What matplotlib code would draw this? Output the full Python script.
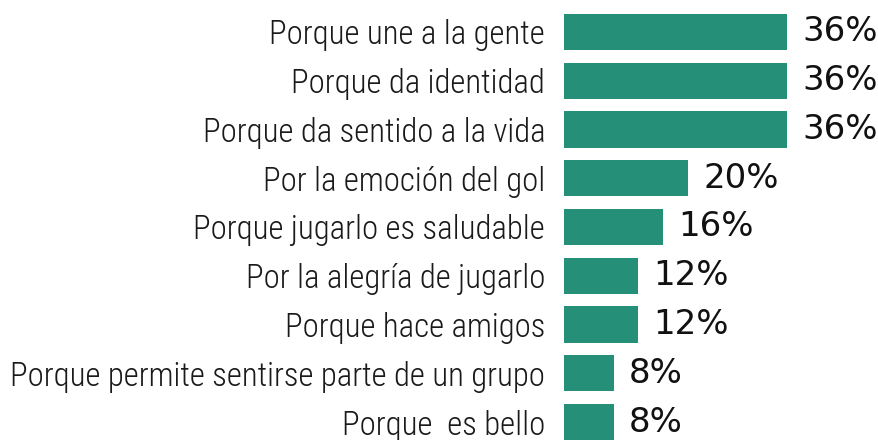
import matplotlib; matplotlib.use('Agg')
import matplotlib.pyplot as plt

reasons = ['Porque une a la gente', 'Porque da identidad', 'Porque da sentido a la vida',
           'Por la emoción del gol', 'Porque jugarlo es saludable', 'Por la alegría de jugarlo',
           'Porque hace amigos', 'Porque permite sentirse parte de un grupo', 'Porque  es bello']
pct = [36, 36, 36, 20, 16, 12, 12, 8, 8]

TEAL = '#258F78'
LABEL_FONT = ['Roboto Condensed', 'Fira Sans Condensed', 'DejaVu Sans']

fig = plt.figure(figsize=(8.79, 4.40), dpi=100)
ax = fig.add_axes([564/879, -6.4/440, 315/879, 438.8/440])
y = range(len(reasons))
ax.barh(y, pct, height=0.74, color=TEAL)
ax.set_xlim(0, 50.9)
ax.set_ylim(len(reasons) - 0.5, -0.5)
ax.set_yticks(list(y))
ax.set_yticklabels(reasons, family=LABEL_FONT, weight=300, fontsize=23.6, color='#1a1a1a')
ax.tick_params(axis='y', length=0, pad=13.5)
ax.set_xticks([])
for s in ax.spines.values():
    s.set_visible(False)
for i, v in enumerate(pct):
    ax.annotate(f'{v}%', (v, i), xytext=(11, 0), textcoords='offset points',
                va='center', ha='left', fontsize=24.5, color='#111111', family='DejaVu Sans')

fig.savefig('out.png', dpi=100, facecolor='white')
